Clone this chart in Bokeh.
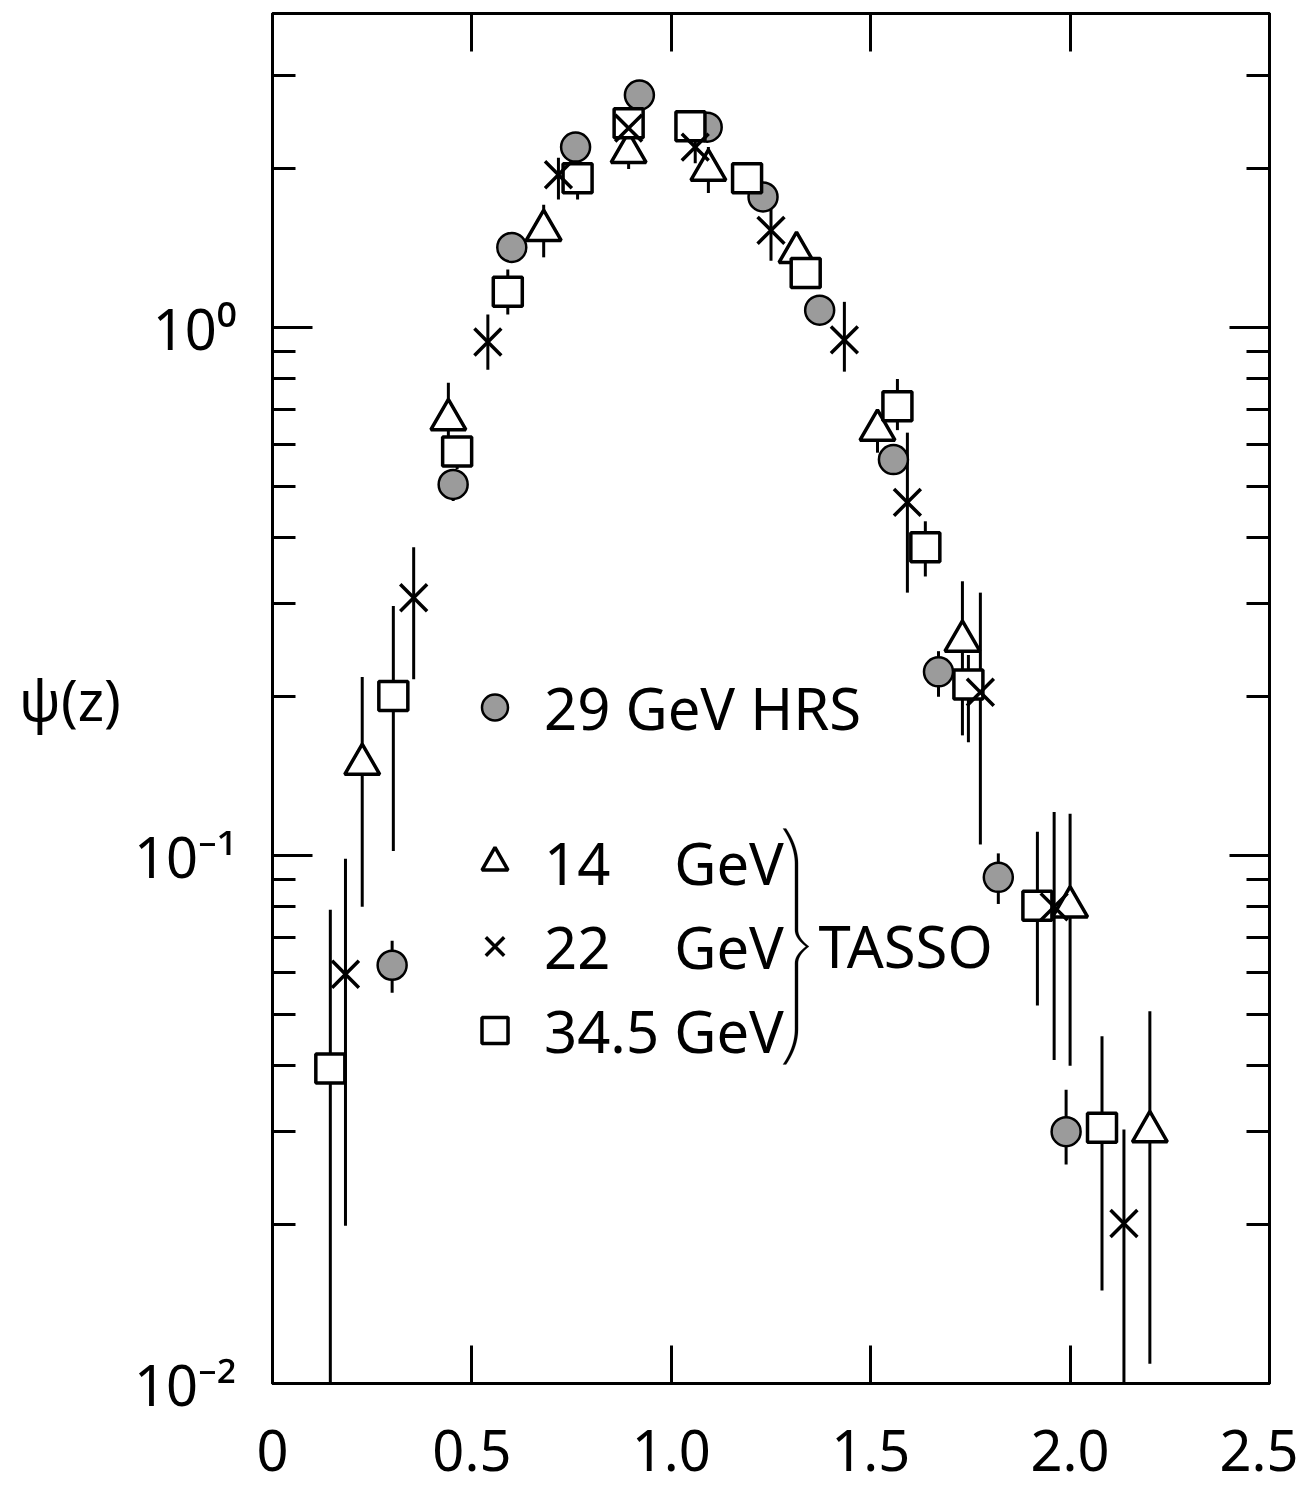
import numpy as np
from bokeh.plotting import figure
from bokeh.models import (ColumnDataSource, FixedTicker, LinearAxis, LogAxis, Legend,
                          LegendItem, Label, PolyAnnotation, Range1d)
from bokeh.embed import file_html
from bokeh.resources import INLINE

# ---------------- data ----------------
# 29 GeV HRS (filled circles)
hrs_z = [0.30, 0.453, 0.60, 0.76, 0.92, 1.09, 1.23, 1.372, 1.557, 1.67, 1.82, 1.99]
hrs_psi = [0.062, 0.505, 1.42, 2.20, 2.76, 2.40, 1.77, 1.08, 0.563, 0.223, 0.091, 0.030]
hrs_lo = [0.055, 0.47, 1.36, 2.10, 2.68, 2.32, 1.70, 1.04, 0.54, 0.200, 0.081, 0.026]
hrs_hi = [0.069, 0.54, 1.48, 2.30, 2.85, 2.48, 1.84, 1.12, 0.59, 0.244, 0.101, 0.036]

# 14 GeV TASSO (open triangles)
t14_z = [0.225, 0.441, 0.68, 0.893, 1.093, 1.314, 1.517, 1.73, 2.00, 2.20]
t14_psi = [0.149, 0.67, 1.53, 2.15, 1.99, 1.39, 0.64, 0.255, 0.080, 0.030]
t14_lo = [0.080, 0.57, 1.36, 2.00, 1.80, 1.27, 0.58, 0.169, 0.040, 0.0109]
t14_hi = [0.218, 0.787, 1.71, 2.30, 2.20, 1.51, 0.70, 0.331, 0.120, 0.0507]

# 22 GeV TASSO (crosses)
t22_z = [0.183, 0.354, 0.54, 0.717, 0.893, 1.06, 1.25, 1.434, 1.592, 1.775, 1.96, 2.135]
t22_psi = [0.0596, 0.308, 0.94, 1.95, 2.39, 2.20, 1.53, 0.949, 0.467, 0.204, 0.080, 0.0201]
t22_lo = [0.0199, 0.216, 0.833, 1.75, 2.25, 2.05, 1.34, 0.826, 0.315, 0.105, 0.041, 0.005]
t22_hi = [0.0987, 0.384, 1.06, 2.10, 2.55, 2.30, 1.75, 1.12, 0.633, 0.315, 0.121, 0.0303]

# 34.5 GeV TASSO (open squares)
t34_z = [0.145, 0.303, 0.463, 0.59, 0.765, 0.893, 1.048, 1.19, 1.337, 1.567, 1.637, 1.745, 1.918, 2.08]
t34_psi = [0.0395, 0.2006, 0.583, 1.17, 1.92, 2.44, 2.41, 1.92, 1.27, 0.71, 0.384, 0.211, 0.0804, 0.0305]
t34_lo = [0.005, 0.102, 0.54, 1.06, 1.75, 2.30, 2.30, 1.82, 1.20, 0.64, 0.338, 0.164, 0.052, 0.015]
t34_hi = [0.079, 0.297, 0.62, 1.29, 2.10, 2.60, 2.50, 2.02, 1.34, 0.80, 0.43, 0.24, 0.111, 0.0455]

x_ticks = [0, 0.5, 1, 1.5, 2, 2.5]
x_tick_labels = ["0", "0.5", "1.0", "1.5", "2.0", "2.5"]
y_ticks = [0.01, 0.1, 1]
y_tick_labels = ["10\u207b\u00b2", "10\u207b\u00b9", "10\u2070"]
y_minor = [0.02, 0.03, 0.04, 0.05, 0.06, 0.07, 0.08, 0.09,
           0.2, 0.3, 0.4, 0.5, 0.6, 0.7, 0.8, 0.9, 2, 3]

labels = ["29 GeV HRS", "14\u2007\u2008 GeV", "22\u2007\u2008 GeV", "34.5 GeV"]

FONT = "Noto Sans"

# ---------------- figure ----------------
FL, FR, FT, FB = 272, 1269, 13, 1383   # frame edges in canvas pixels
p = figure(width=1298, height=1489,
           x_range=Range1d(0, 2.5), y_range=Range1d(0.01, 3.94),
           y_axis_type="log", output_backend="svg", toolbar_location=None,
           min_border_left=FL, min_border_right=1298 - FR,
           min_border_top=FT, min_border_bottom=1489 - FB,
           background_fill_color="white", border_fill_color="white",
           outline_line_color="black", outline_line_width=3)
p.grid.visible = False

xt = FixedTicker(ticks=x_ticks, minor_ticks=[])
yt = FixedTicker(ticks=y_ticks, minor_ticks=y_minor)

def style_axis(ax, show_labels):
    ax.axis_line_color = "black"
    ax.axis_line_width = 3
    ax.major_tick_line_color = "black"
    ax.major_tick_line_width = 3
    ax.minor_tick_line_color = "black"
    ax.minor_tick_line_width = 3
    ax.major_tick_out = 0
    ax.minor_tick_out = 0
    ax.major_label_text_font = FONT
    ax.major_label_text_color = "black"
    if not show_labels:
        # mirrored tick marks only: labels are not drawn
        ax.major_label_text_color = None
        ax.major_label_text_font_size = "1px"
        ax.major_label_standoff = 0

bx = p.xaxis[0]
bx.ticker = xt
bx.major_label_overrides = {t: l for t, l in zip(x_ticks, x_tick_labels)}
style_axis(bx, True)
bx.major_tick_in = 38
bx.major_label_text_font_size = "56px"
bx.major_label_standoff = 46

tx = LinearAxis(ticker=xt)
style_axis(tx, False)
tx.major_tick_in = 38
p.add_layout(tx, "above")

ly = p.yaxis[0]
ly.ticker = yt
ly.major_label_overrides = {t: l for t, l in zip(y_ticks, y_tick_labels)}
style_axis(ly, True)
ly.major_tick_in = 40
ly.minor_tick_in = 23
ly.major_label_text_font_size = "56px"
ly.major_label_standoff = 36
ly.axis_label = "\u03c8(z)"
ly.axis_label_orientation = "horizontal"
ly.axis_label_text_font = FONT
ly.axis_label_text_font_size = "56px"
ly.axis_label_text_font_style = "normal"
ly.axis_label_text_color = "black"
ly.axis_label_standoff = 10

ry = LogAxis(ticker=yt)
style_axis(ry, False)
ry.major_tick_in = 40
ry.minor_tick_in = 23
p.add_layout(ry, "right")

# ---------------- error bars ----------------
series = [
    (hrs_z, hrs_psi, hrs_lo, hrs_hi),
    (t14_z, t14_psi, t14_lo, t14_hi),
    (t22_z, t22_psi, t22_lo, t22_hi),
    (t34_z, t34_psi, t34_lo, t34_hi),
]
srcs = []
for z, psi, lo, hi in series:
    s = ColumnDataSource(dict(z=z, psi=psi, lo=lo, hi=hi))
    srcs.append(s)
    p.segment(x0="z", y0="lo", x1="z", y1="hi", source=s, line_color="black", line_width=3)

# ---------------- markers ----------------
r14 = p.scatter("z", "psi", source=srcs[1], marker="triangle", size=35,
                fill_color="white", line_color="black", line_width=3.5)
rhrs = p.scatter("z", "psi", source=srcs[0], marker="circle", size=29,
                 fill_color="#9b9b9b", line_color="black", line_width=2.5)
r34 = p.scatter("z", "psi", source=srcs[3], marker="square", size=29,
                fill_color="white", line_color="black", line_width=3.5)
r22 = p.scatter("z", "psi", source=srcs[2], marker="x", size=38,
                line_color="black", line_width=3.5)

# ---------------- legend ----------------
common = dict(glyph_width=65, glyph_height=80, label_standoff=17, spacing=4,
              padding=0, margin=0, border_line_color=None, background_fill_alpha=0,
              label_text_font=FONT, label_text_font_size="58px", label_text_color="black",
              label_height=80)
leg1 = Legend(items=[LegendItem(label=labels[0], renderers=[rhrs])],
              location=(190, 636), **common)
leg2 = Legend(items=[LegendItem(label=labels[1], renderers=[r14]),
                     LegendItem(label=labels[2], renderers=[r22]),
                     LegendItem(label=labels[3], renderers=[r34])],
              location=(190, 313), **common)
p.add_layout(leg1)
p.add_layout(leg2)

# brace "}" grouping the TASSO entries (screen units relative to the frame)
top, mid, bot = 828.0, 946.0, 1064.0
stem, end, tip = 796.0, 784.0, 807.0
s = np.linspace(0, 1, 80)
xu = stem + (end - stem) * np.clip(1 - s / 0.3, 0, None) ** 2 + (tip - stem) * np.clip((s - 0.86) / 0.14, 0, None) ** 2
yu = top + s * (mid - top)
xl = stem + (tip - stem) * np.clip(1 - s / 0.14, 0, None) ** 2 + (end - stem) * np.clip((s - 0.7) / 0.3, 0, None) ** 2
yl = mid + s * (bot - mid)
cx = np.concatenate([xu, xl[1:]])
cy = np.concatenate([yu, yl[1:]])
hw = 1.6
px = np.concatenate([cx - hw, (cx + hw)[::-1]]) - FL
py = FB - np.concatenate([cy, cy[::-1]])
p.add_layout(PolyAnnotation(xs=[float(v) for v in px], ys=[float(v) for v in py],
                            xs_units="screen", ys_units="screen",
                            fill_color="black", fill_alpha=1, line_color="black", line_width=0.5))

p.add_layout(Label(x=818 - FL, y=FB - 945, x_units="screen", y_units="screen", text="TASSO",
                   text_font=FONT, text_font_size="58px", text_color="black",
                   text_baseline="middle", text_align="left"))

open("out.html", "w").write(file_html(p, INLINE))
